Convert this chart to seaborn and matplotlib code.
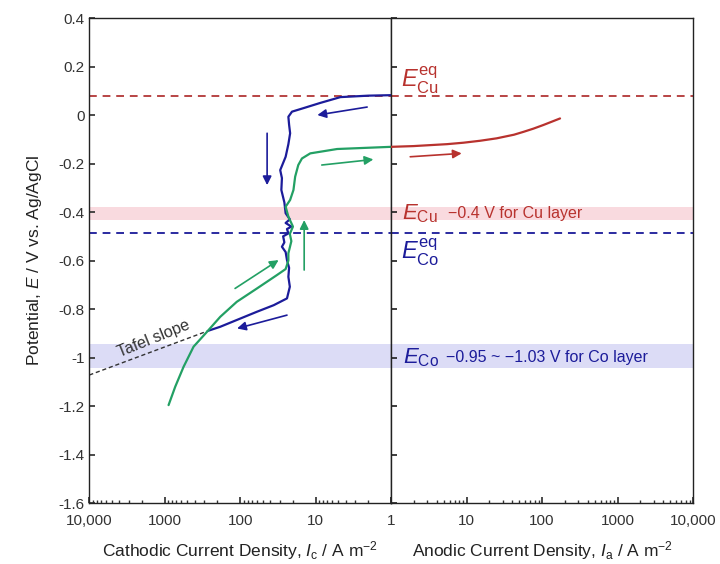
import numpy as np
import pandas as pd
import matplotlib
matplotlib.use('Agg')
import matplotlib.pyplot as plt
from matplotlib.ticker import FixedLocator, FuncFormatter, LogLocator, NullFormatter
import seaborn as sns

# 数据：阴极扫描（蓝）、阳极回扫（绿）、阳极溶解（红）
blue_ic = [1, 2, 4.7, 8.7, 14, 20.6, 23, 22.5, 21.8, 23, 25, 29.5, 28, 28.5, 26, 25, 22,
           25, 21, 24, 23, 27, 26, 28, 25, 24, 22.5, 23, 22, 24, 36, 60, 111, 184, 263]
blue_e = [0.082, 0.08, 0.074, 0.05, 0.03, 0.014, -0.007, -0.04, -0.075, -0.12, -0.172,
          -0.227, -0.26, -0.309, -0.36, -0.405, -0.43, -0.445, -0.46, -0.47, -0.488,
          -0.5, -0.525, -0.543, -0.565, -0.598, -0.63, -0.667, -0.708, -0.756, -0.784,
          -0.811, -0.845, -0.873, -0.889]

green_ic = [890, 726, 563, 415, 276, 184, 111, 60, 32.7, 25, 23, 23, 21, 22, 20, 23, 25,
            21.8, 19.7, 18.7, 17, 15.2, 11.8, 5.2, 1]
green_e = [-1.196, -1.12, -1.038, -0.955, -0.894, -0.832, -0.77, -0.715, -0.66, -0.635,
           -0.6, -0.57, -0.52, -0.49, -0.46, -0.419, -0.378, -0.35, -0.309, -0.254,
           -0.206, -0.179, -0.158, -0.14, -0.131]

red_ia = [1, 1.97, 5.5, 9.1, 15.1, 25, 42.5, 57, 76.8, 104, 128, 173]
red_e = [-0.131, -0.128, -0.12, -0.114, -0.106, -0.096, -0.081, -0.069, -0.056, -0.041,
         -0.03, -0.014]

tafel_ic = [10000, 263]
tafel_e = [-1.072, -0.889]

e_cu_eq = 0.08
e_co_eq = -0.487
cu_band = (-0.434, -0.381)
co_band = (-1.045, -0.942)

ytick_vals = [0.4, 0.2, 0, -0.2, -0.4, -0.6, -0.8, -1, -1.2, -1.4, -1.6]
xtick_vals = [1, 10, 100, 1000, 10000]
cat_labels = ['1', '10', '100', '1000', '10,000']
ano_labels = ['', '10', '100', '1000', '10,000']

# 颜色
c_blue = '#1c1c9a'
c_green = '#23a064'
c_red = '#b8322e'

sns.set_theme(style='ticks')
plt.rcParams['font.family'] = ['Liberation Sans', 'DejaVu Sans']
plt.rcParams['mathtext.fontset'] = 'custom'
plt.rcParams['mathtext.rm'] = 'Liberation Sans'
plt.rcParams['mathtext.it'] = 'Liberation Sans:italic'

fig, (axc, axa) = plt.subplots(1, 2, sharey=True, figsize=(7.2, 5.64), dpi=100)
fig.subplots_adjust(left=0.124, right=0.9625, bottom=0.108, top=0.968, wspace=0)

for ax in (axc, axa):
    ax.set_xscale('log')
    ax.axhspan(*cu_band, color='#f9dadf', lw=0, zorder=0)
    ax.axhspan(*co_band, color='#dcdcf6', lw=0, zorder=0)
    ax.axhline(e_cu_eq, color='#b84444', ls=(0, (4, 3)), lw=1.4, zorder=1)
    ax.axhline(e_co_eq, color='#2a2aa0', ls=(0, (4, 3)), lw=1.4, zorder=1)
    for sp in ax.spines.values():
        sp.set_color('#222222')
        sp.set_linewidth(1.0)
        sp.set_visible(True)

axc.set_xlim(10000, 1)
axa.set_xlim(1, 10000)
axc.set_ylim(-1.6, 0.4)

# 曲线
df_b = pd.DataFrame({'I': blue_ic, 'E': blue_e})
df_g = pd.DataFrame({'I': green_ic, 'E': green_e})
df_r = pd.DataFrame({'I': red_ia, 'E': red_e})
sns.lineplot(data=df_b, x='I', y='E', sort=False, estimator=None, color=c_blue, lw=1.6, ax=axc, zorder=3)
sns.lineplot(data=df_g, x='I', y='E', sort=False, estimator=None, color=c_green, lw=1.6, ax=axc, zorder=4)
sns.lineplot(data=df_r, x='I', y='E', sort=False, estimator=None, color=c_red, lw=1.6, ax=axa, zorder=3)
axc.plot(tafel_ic, tafel_e, color='#333333', ls=(0, (3, 2)), lw=1.0, zorder=2)

# 箭头
def arrow(ax, p0, p1, color):
    ax.annotate('', xy=p1, xytext=p0,
                arrowprops=dict(arrowstyle='-|>', color=color, lw=1.2, mutation_scale=13,
                                shrinkA=0, shrinkB=0))

arrow(axc, (2.08, 0.033), (9.5, 0.0), c_blue)
arrow(axc, (44, -0.075), (44, -0.289), c_blue)
arrow(axc, (24, -0.825), (110, -0.88), c_blue)
arrow(axc, (8.3, -0.206), (1.72, -0.183), c_green)
arrow(axc, (14.2, -0.639), (14.2, -0.433), c_green)
arrow(axc, (117, -0.715), (31, -0.598), c_green)
arrow(axa, (1.79, -0.172), (8.6, -0.158), c_red)

# 文字标注
axa.text(1.35, 0.145, r'$E_{\mathrm{Cu}}^{\mathrm{eq}}$', color=c_red, fontsize=17, ha='left', va='center')
axa.text(1.35, -0.565, r'$E_{\mathrm{Co}}^{\mathrm{eq}}$', color=c_blue, fontsize=17, ha='left', va='center')
axa.text(1.38, -0.405, r'$E_{\mathrm{Cu}}$', color=c_red, fontsize=16, ha='left', va='center')
axa.text(5.7, -0.405, '\u22120.4 V for Cu layer', color=c_red, fontsize=11.5, ha='left', va='center')
axa.text(1.42, -1.0, r'$E_{\mathrm{Co}}$', color=c_blue, fontsize=16, ha='left', va='center')
axa.text(5.35, -1.0, '\u22120.95 ~ \u22121.03 V for Co layer', color=c_blue, fontsize=11.5, ha='left', va='center')
axc.text(1380, -0.924, 'Tafel slope', color='#333333', fontsize=11.5, rotation=22,
         ha='center', va='center')

# 坐标轴
fmt_y = FuncFormatter(lambda v, _: f'{round(v, 1):g}')
axc.yaxis.set_major_locator(FixedLocator(ytick_vals))
axc.yaxis.set_major_formatter(fmt_y)
axc.tick_params(axis='y', direction='in', length=4, labelsize=11, colors='#333333', labelcolor='#333333')
axa.tick_params(axis='y', direction='in', length=4, left=True, right=False, labelleft=False)

for ax, labs in ((axc, cat_labels), (axa, ano_labels)):
    ax.xaxis.set_major_locator(FixedLocator(xtick_vals))
    ax.set_xticklabels(labs)
    ax.xaxis.set_minor_locator(LogLocator(base=10, subs=np.arange(2, 10)))
    ax.xaxis.set_minor_formatter(NullFormatter())
    ax.tick_params(axis='x', which='major', direction='in', length=4, labelsize=11,
                   pad=8, colors='#333333', labelcolor='#333333')
    ax.tick_params(axis='x', which='minor', direction='in', length=2.5, colors='#333333')

axc.set_ylabel('Potential, $E$ / V vs. Ag/AgCl', fontsize=12.5, color='#222222', labelpad=10)
axc.set_xlabel('Cathodic Current Density, $I_{\\mathrm{c}}$ / A m$^{-2}$', fontsize=12.5, color='#222222', labelpad=8)
axa.set_xlabel('Anodic Current Density, $I_{\\mathrm{a}}$ / A m$^{-2}$', fontsize=12.5, color='#222222', labelpad=8)

fig.savefig('out.png', dpi=100, facecolor='white')
